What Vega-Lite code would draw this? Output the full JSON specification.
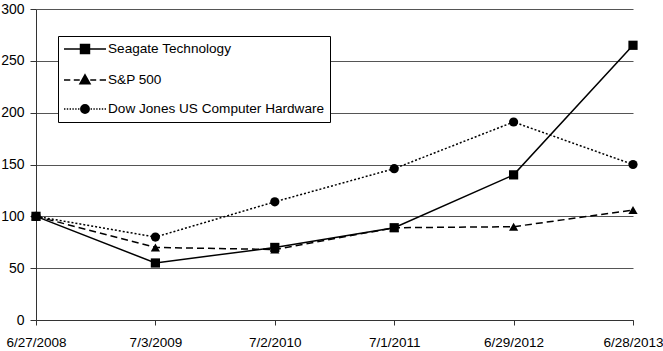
{
  "$schema": "https://vega.github.io/schema/vega-lite/v6.json",
  "width": 597,
  "height": 311,
  "autosize": {"type": "none"},
  "padding": {"left": 36, "top": 9, "right": 30, "bottom": 31},
  "background": "white",
  "config": {
    "view": {"stroke": null},
    "font": "Liberation Sans",
    "axis": {"labelFont": "Liberation Sans", "labelFontSize": 14, "labelColor": "black", "title": null},
    "legend": {
      "title": null,
      "orient": "none",
      "legendX": 22,
      "legendY": 27,
      "strokeColor": "black",
      "fillColor": "white",
      "padding": 5,
      "symbolSize": 196,
      "symbolOffset": 14,
      "labelOffset": 15,
      "rowPadding": 14,
      "labelFontSize": 13.6,
      "labelLimit": 0,
      "labelColor": "black",
      "labelFont": "Liberation Sans",
      "symbolStrokeColor": "black",
      "symbolStrokeWidth": 1.5,
      "symbolOpacity": 1
    }
  },
  "data": {
    "values": [
      {"date": "6/27/2008", "series": "Seagate Technology", "value": 100},
      {"date": "7/3/2009", "series": "Seagate Technology", "value": 55},
      {"date": "7/2/2010", "series": "Seagate Technology", "value": 70},
      {"date": "7/1/2011", "series": "Seagate Technology", "value": 89},
      {"date": "6/29/2012", "series": "Seagate Technology", "value": 140},
      {"date": "6/28/2013", "series": "Seagate Technology", "value": 265},
      {"date": "6/27/2008", "series": "S&P 500", "value": 100},
      {"date": "7/3/2009", "series": "S&P 500", "value": 70},
      {"date": "7/2/2010", "series": "S&P 500", "value": 68},
      {"date": "7/1/2011", "series": "S&P 500", "value": 89},
      {"date": "6/29/2012", "series": "S&P 500", "value": 90},
      {"date": "6/28/2013", "series": "S&P 500", "value": 106},
      {"date": "6/27/2008", "series": "Dow Jones US Computer Hardware", "value": 100},
      {"date": "7/3/2009", "series": "Dow Jones US Computer Hardware", "value": 80},
      {"date": "7/2/2010", "series": "Dow Jones US Computer Hardware", "value": 114},
      {"date": "7/1/2011", "series": "Dow Jones US Computer Hardware", "value": 146},
      {"date": "6/29/2012", "series": "Dow Jones US Computer Hardware", "value": 191},
      {"date": "6/28/2013", "series": "Dow Jones US Computer Hardware", "value": 150}
    ]
  },
  "encoding": {
    "x": {
      "field": "date", "type": "ordinal",
      "sort": ["6/27/2008", "7/3/2009", "7/2/2010", "7/1/2011", "6/29/2012", "6/28/2013"],
      "scale": {"type": "point", "padding": 0},
      "axis": {"labelAngle": 0, "domainColor": "#333", "tickColor": "#333", "tickSize": 5, "labelPadding": 10, "labelFontSize": 13.5, "labelOverlap": false, "labelBound": false, "labelFlush": false, "grid": false}
    },
    "y": {
      "field": "value", "type": "quantitative",
      "scale": {"domain": [0, 300], "nice": false},
      "axis": {"values": [0, 50, 100, 150, 200, 250, 300], "grid": true, "gridColor": "#555", "gridWidth": 1, "domainColor": "#333", "tickColor": "#333", "tickSize": 6, "labelPadding": 6}
    }
  },
  "layer": [
    {
      "transform": [{"filter": "datum.series === 'Seagate Technology'"}],
      "mark": {"type": "line", "color": "black", "strokeWidth": 1.5},
      "encoding": {}
    },
    {
      "transform": [{"filter": "datum.series === 'S&P 500'"}],
      "mark": {"type": "line", "color": "black", "strokeWidth": 1.5, "strokeDash": [7, 4]},
      "encoding": {}
    },
    {
      "transform": [{"filter": "datum.series === 'Dow Jones US Computer Hardware'"}],
      "mark": {"type": "line", "color": "black", "strokeWidth": 1.5, "strokeDash": [2, 2]},
      "encoding": {}
    },
    {
      "transform": [{"filter": "datum.series === 'Seagate Technology'"}],
      "mark": {"type": "point", "shape": "square", "filled": true, "color": "black", "opacity": 1, "size": 85}
    },
    {
      "transform": [{"filter": "datum.series === 'S&P 500'"}],
      "mark": {"type": "point", "shape": "triangle-up", "filled": true, "color": "black", "opacity": 1, "size": 85}
    },
    {
      "transform": [{"filter": "datum.series === 'Dow Jones US Computer Hardware'"}],
      "mark": {"type": "point", "shape": "circle", "filled": true, "color": "black", "opacity": 1, "size": 85}
    },
    {
      "mark": {"type": "point", "filled": false, "color": "black", "stroke": "black", "opacity": 0, "strokeWidth": 1.5},
      "encoding": {
        "shape": {
          "field": "series", "type": "nominal",
          "scale": {
            "domain": ["Seagate Technology", "S&P 500", "Dow Jones US Computer Hardware"],
            "range": [
              "M-3,0L3,0M-0.64,-0.64L0.64,-0.64L0.64,0.64L-0.64,0.64ZM-0.64,-0.43L0.64,-0.43M-0.64,-0.21L0.64,-0.21M-0.64,0L0.64,0M-0.64,0.21L0.64,0.21M-0.64,0.43L0.64,0.43",
              "M-3,0L-2.1,0M-1.6,0L-0.75,0M0.75,0L1.6,0M2.1,0L3,0M0,-0.75L0.72,0.55L-0.72,0.55ZM-0.055,-0.65L0.055,-0.65M-0.166,-0.45L0.166,-0.45M-0.277,-0.25L0.277,-0.25M-0.388,-0.05L0.388,-0.05M-0.498,0.15L0.498,0.15M-0.609,0.35L0.609,0.35",
              "M-3,0L-2.8,0M-2.6,0L-2.4,0M-2.2,0L-2,0M-1.8,0L-1.6,0M-1.4,0L-1.2,0M-1,0L-0.8,0M0.8,0L1,0M1.2,0L1.4,0M1.6,0L1.8,0M2,0L2.2,0M2.4,0L2.6,0M2.8,0L3,0M-0.6,0A0.6,0.6,0,1,0,0.6,0A0.6,0.6,0,1,0,-0.6,0ZM-0.38,-0.44L0.38,-0.44M-0.53,-0.22L0.53,-0.22M-0.58,0L0.58,0M-0.53,0.22L0.53,0.22M-0.38,0.44L0.38,0.44"
            ]
          }
        }
      }
    }
  ]
}
